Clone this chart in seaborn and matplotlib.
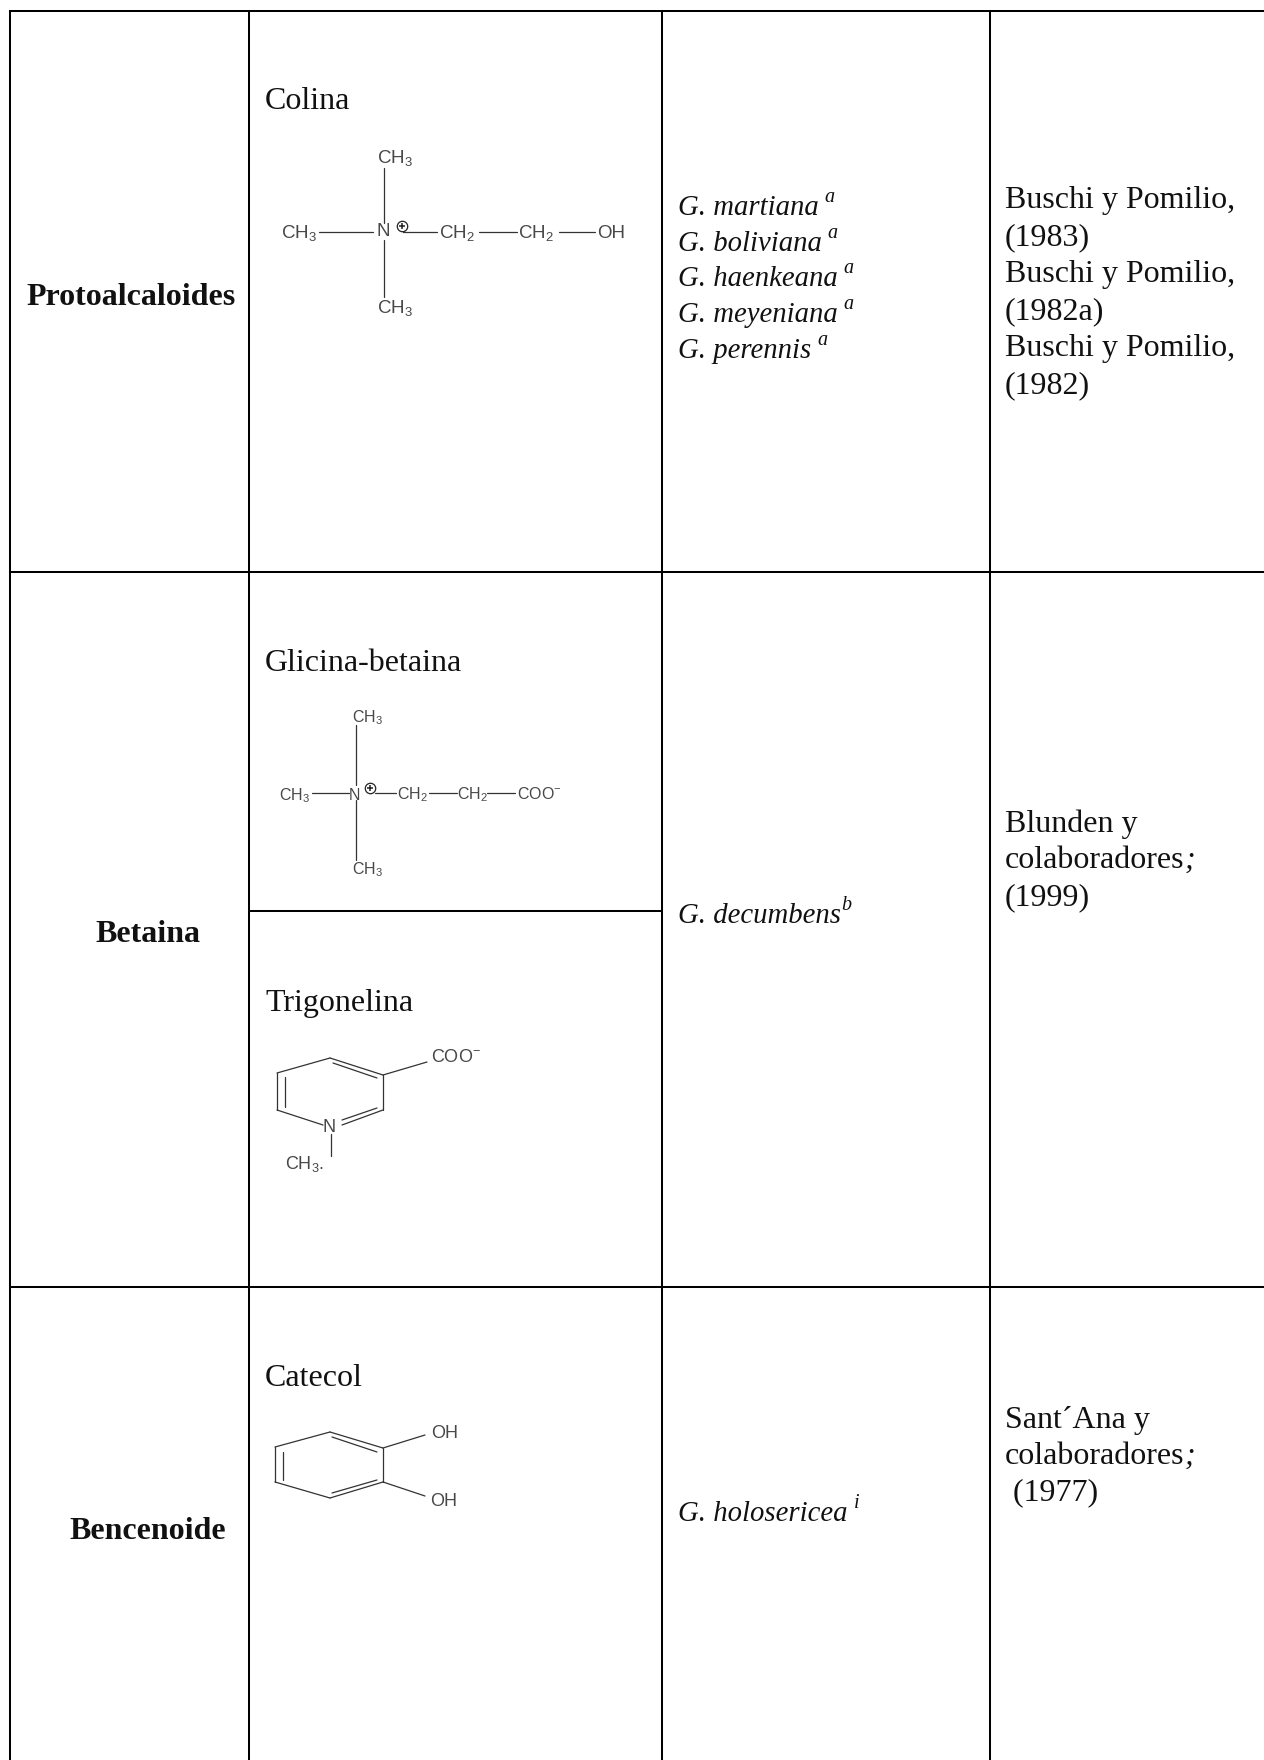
import matplotlib
matplotlib.use("Agg")
import matplotlib.pyplot as plt
import pandas as pd
import seaborn as sns

# ---- table content ----
classes = ["Protoalcaloides", "Betaina", "Bencenoide"]
compounds = ["Colina", "Glicina-betaina", "Trigonelina", "Catecol"]
species = [("G. martiana", "a"), ("G. boliviana", "a"), ("G. haenkeana", "a"),
           ("G. meyeniana", "a"), ("G. perennis", "a")]
species_betaina = [("G. decumbens", "b")]
species_benceno = [("G. holosericea", "i")]
refs_1 = ["Buschi y Pomilio,", "(1983)", "Buschi y Pomilio,", "(1982a)",
          "Buschi y Pomilio,", "(1982)"]
refs_2 = ["Blunden y", "colaboradores", "(1999)"]
refs_3 = ["Sant´Ana y", "colaboradores", " (1977)"]

# ---- layout, in image pixels ----
W, H = 1264, 1760
col_x = [10, 249, 662, 990]
row_y = [11, 572, 1287]
sub_rule_y = 911
INK = "#111111"
SERIF = "Liberation Serif"
SANS = "Liberation Sans"

# (x0, y0, x1, y1)
colina_bonds = [(384, 168, 384, 223), (384, 240, 384, 297), (319, 232, 373, 232),
                (403, 232, 437, 232), (479, 232, 517, 232), (559, 232, 595, 232)]
colina_atoms = [("CH$_3$", 377, 158), ("CH$_3$", 377, 308), ("CH$_3$", 281, 233), ("N", 376, 232),
                ("CH$_2$", 439, 233), ("CH$_2$", 518, 233), ("OH", 597, 233)]
glicina_bonds = [(356, 725, 356, 785), (356, 800, 356, 860), (312, 793, 349, 793),
                 (375, 793, 396, 793), (429, 793, 457, 793), (487, 793, 515, 793)]
glicina_atoms = [("CH$_3$", 352, 718), ("CH$_3$", 352, 870), ("CH$_3$", 279, 796), ("N", 349, 795),
                 ("CH$_2$", 397, 795), ("CH$_2$", 457, 795), ("COO$^{-}$", 517, 794)]
trigo_bonds = [(330, 1058, 383, 1075), (383, 1075, 383, 1110), (383, 1110, 342, 1125),
               (323, 1125, 277, 1110), (277, 1110, 277, 1073), (277, 1073, 330, 1058),
               (333, 1063, 377, 1078), (342, 1120, 377, 1108), (285, 1077, 285, 1107),
               (383, 1075, 427, 1062), (331, 1134, 331, 1156)]
trigo_atoms = [("COO$^{-}$", 431, 1058), ("N", 323, 1128), ("CH$_3$.", 285, 1164)]
catecol_bonds = [(330, 1432, 383, 1448), (383, 1448, 383, 1482), (383, 1482, 330, 1498),
                 (330, 1498, 275, 1482), (275, 1482, 275, 1447), (275, 1447, 330, 1432),
                 (332, 1437, 377, 1452), (332, 1493, 377, 1480), (283, 1452, 283, 1480),
                 (383, 1448, 425, 1435), (383, 1482, 425, 1496)]
catecol_atoms = [("OH", 431, 1433), ("OH", 430, 1501)]
plus_marks = [(402, 226), (370, 788)]

sns.set_theme(style="white")
fig = plt.figure(figsize=(W / 100, H / 100), dpi=100, facecolor="white")
ax = fig.add_axes([0, 0, 1, 1])


def segments(items):
    rows = []
    for i, (x0, y0, x1, y1) in enumerate(items):
        rows += [dict(seg=i, x=x0, y=y0), dict(seg=i, x=x1, y=y1)]
    return pd.DataFrame(rows)


# table rules
rules = [(x, row_y[0], x, H) for x in col_x]
rules += [(col_x[0], row_y[0], W, row_y[0]),
          (col_x[0], row_y[1], W, row_y[1]),
          (col_x[0], row_y[2], W, row_y[2]),
          (col_x[1], sub_rule_y, col_x[2], sub_rule_y)]
sns.lineplot(data=segments(rules), x="x", y="y", units="seg", estimator=None, sort=False,
             color="black", linewidth=1.45, legend=False, ax=ax, solid_capstyle="projecting")

# structure bonds
all_bonds = colina_bonds + glicina_bonds + trigo_bonds + catecol_bonds
sns.lineplot(data=segments(all_bonds), x="x", y="y", units="seg", estimator=None, sort=False,
             color="#333333", linewidth=0.9, legend=False, ax=ax)
ax.set_xlim(0, W)
ax.set_ylim(H, 0)
ax.axis("off")

# atoms
plt.rcParams["mathtext.fontset"] = "custom"
plt.rcParams["mathtext.rm"] = SANS
plt.rcParams["mathtext.default"] = "regular"
for atoms, size in [(colina_atoms, 13.5), (glicina_atoms, 11.5),
                    (trigo_atoms, 13), (catecol_atoms, 13)]:
    for label, x, y in atoms:
        ax.text(x, y, label, family=SANS, fontsize=size, color="#484848", ha="left", va="center")
for x, y in plus_marks:
    ax.plot([x], [y], marker="o", ms=7.5, mfc="white", mec="#222222", mew=0.9, ls="none")
    ax.plot([x], [y], marker="+", ms=5, mec="#222222", mew=1.1, ls="none")


# serif text
def put(x, y, s, size=23, **kw):
    return ax.text(x, y, s, family=SERIF, fontsize=size, color=INK, va="baseline", **kw)


def species_text(x, y, name, sup, gap):
    t = put(x, y, name, size=20.7, style="italic")
    right = t.get_window_extent(fig.canvas.get_renderer()).x1
    put(right + gap, y - 13, sup, size=14.5, style="italic")


put(26, 305, classes[0], size=23, weight="bold")
put(148, 942, classes[1], size=23, weight="bold", ha="center")
put(148, 1539, classes[2], size=23, weight="bold", ha="center")

put(265, 109, compounds[0])
put(265, 671, compounds[1])
put(265, 1011, compounds[2])
put(265, 1386, compounds[3])

for (name, sup), y in zip(species, [215, 251, 286, 322, 358]):
    species_text(678, y, name, sup, 6)
species_text(678, 923, species_betaina[0][0], species_betaina[0][1], 0)
species_text(678, 1521, species_benceno[0][0], species_benceno[0][1], 6)

for s, y in zip(refs_1, [208, 245, 282, 319, 356, 393]):
    put(1005, y, s)
for s, y in zip(refs_2, [832, 868, 905]):
    t = put(1005, y, s)
    if s == "colaboradores":
        put(t.get_window_extent(fig.canvas.get_renderer()).x1, y, ";", style="italic")
for s, y in zip(refs_3, [1428, 1464, 1500]):
    t = put(1005, y, s)
    if s == "colaboradores":
        put(t.get_window_extent(fig.canvas.get_renderer()).x1, y, ";", style="italic")

fig.savefig("out.png", dpi=100, facecolor="white")
